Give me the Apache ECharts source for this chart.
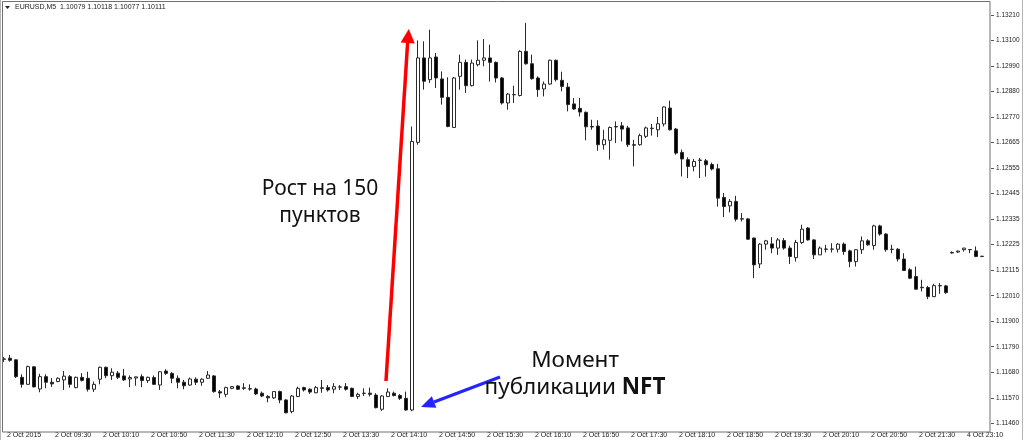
<!DOCTYPE html>
<html>
<head>
<meta charset="utf-8">
<script src="https://cdn.jsdelivr.net/npm/echarts@6/dist/echarts.min.js"></script>
<style>
  html, body { margin: 0; padding: 0; background: #fff; }
  #chart { width: 1024px; height: 440px; }
</style>
</head>
<body>
<div id="chart"></div>
<script>
// EURUSD M5, 2 Oct 2015 (NFT day) + first bars of 4 Oct
const barOpen = [
  1.11734, 1.11739, 1.11732, 1.11657, 1.11627, 1.11702, 1.11607, 1.11660, 1.11636, 1.11639,
  1.11646, 1.11660, 1.11613, 1.11657, 1.11653, 1.11606, 1.11649, 1.11700, 1.11664, 1.11675,
  1.11663, 1.11650, 1.11654, 1.11660, 1.11643, 1.11656, 1.11624, 1.11684, 1.11674, 1.11653,
  1.11636, 1.11624, 1.11649, 1.11636, 1.11653, 1.11663, 1.11595, 1.11584, 1.11610, 1.11620,
  1.11612, 1.11608, 1.11607, 1.11589, 1.11575, 1.11569, 1.11596, 1.11560, 1.11510, 1.11575,
  1.11613, 1.11606, 1.11591, 1.11612, 1.11613, 1.11606, 1.11615, 1.11617, 1.11610, 1.11575,
  1.11588, 1.11589, 1.11581, 1.11520, 1.11575, 1.11589, 1.11579, 1.11567, 1.11517, 1.12664,
  1.13026, 1.12933, 1.13030, 1.12936, 1.12857, 1.12728, 1.12947, 1.13007, 1.12907, 1.12997,
  1.13016, 1.13026, 1.13007, 1.12940, 1.12833, 1.12868, 1.12865, 1.13054, 1.13001, 1.12940,
  1.12893, 1.12914, 1.13016, 1.12930, 1.12901, 1.12829, 1.12810, 1.12793, 1.12732, 1.12734,
  1.12654, 1.12673, 1.12730, 1.12735, 1.12726, 1.12654, 1.12654, 1.12690, 1.12723, 1.12718,
  1.12743, 1.12811, 1.12721, 1.12621, 1.12590, 1.12561, 1.12588, 1.12585, 1.12569, 1.12551,
  1.12428, 1.12392, 1.12411, 1.12335, 1.12336, 1.12254, 1.12143, 1.12228, 1.12229, 1.12211,
  1.12243, 1.12211, 1.12170, 1.12235, 1.12297, 1.12246, 1.12182, 1.12207, 1.12206, 1.12206,
  1.12228, 1.12199, 1.12153, 1.12204, 1.12242, 1.12222, 1.12306, 1.12271, 1.12205, 1.12206,
  1.12164, 1.12118, 1.12089, 1.12043, 1.12042, 1.12003, 1.12049, 1.12049, 1.12192, 1.12194,
  1.12204, 1.12205, 1.12199, 1.12176
];
const barClose = [
  1.11736, 1.11730, 1.11660, 1.11627, 1.11703, 1.11616, 1.11660, 1.11636, 1.11629, 1.11653,
  1.11662, 1.11627, 1.11657, 1.11644, 1.11606, 1.11627, 1.11700, 1.11664, 1.11679, 1.11657,
  1.11646, 1.11656, 1.11659, 1.11643, 1.11657, 1.11627, 1.11681, 1.11674, 1.11653, 1.11636,
  1.11621, 1.11650, 1.11636, 1.11649, 1.11667, 1.11596, 1.11590, 1.11613, 1.11617, 1.11606,
  1.11610, 1.11607, 1.11586, 1.11577, 1.11569, 1.11596, 1.11560, 1.11505, 1.11577, 1.11610,
  1.11603, 1.11594, 1.11613, 1.11610, 1.11603, 1.11617, 1.11616, 1.11606, 1.11575, 1.11584,
  1.11589, 1.11584, 1.11527, 1.11577, 1.11594, 1.11579, 1.11567, 1.11517, 1.12668, 1.13026,
  1.12926, 1.13026, 1.12940, 1.12857, 1.12732, 1.12940, 1.13007, 1.12907, 1.13004, 1.13016,
  1.13026, 1.13007, 1.12940, 1.12833, 1.12871, 1.12869, 1.13054, 1.13001, 1.12937, 1.12890,
  1.12914, 1.13016, 1.12933, 1.12904, 1.12826, 1.12807, 1.12794, 1.12731, 1.12730, 1.12654,
  1.12675, 1.12728, 1.12732, 1.12721, 1.12654, 1.12652, 1.12693, 1.12726, 1.12725, 1.12744,
  1.12816, 1.12718, 1.12618, 1.12593, 1.12561, 1.12582, 1.12587, 1.12568, 1.12550, 1.12425,
  1.12389, 1.12411, 1.12335, 1.12337, 1.12249, 1.12139, 1.12228, 1.12242, 1.12211, 1.12246,
  1.12211, 1.12175, 1.12235, 1.12292, 1.12246, 1.12182, 1.12211, 1.12206, 1.12207, 1.12228,
  1.12196, 1.12153, 1.12204, 1.12242, 1.12225, 1.12306, 1.12271, 1.12204, 1.12206, 1.12164,
  1.12115, 1.12082, 1.12035, 1.12041, 1.12003, 1.12050, 1.12050, 1.12020, 1.12190, 1.12198,
  1.12211, 1.12204, 1.12175, 1.12175
];
const barLow = [
  1.11723, 1.11724, 1.11654, 1.11613, 1.11625, 1.11614, 1.11593, 1.11610, 1.11616, 1.11636,
  1.11603, 1.11613, 1.11610, 1.11639, 1.11596, 1.11594, 1.11627, 1.11653, 1.11646, 1.11650,
  1.11642, 1.11615, 1.11621, 1.11615, 1.11633, 1.11624, 1.11603, 1.11667, 1.11632, 1.11610,
  1.11606, 1.11621, 1.11624, 1.11621, 1.11650, 1.11591, 1.11569, 1.11572, 1.11606, 1.11603,
  1.11603, 1.11600, 1.11581, 1.11572, 1.11550, 1.11564, 1.11546, 1.11503, 1.11503, 1.11572,
  1.11596, 1.11586, 1.11589, 1.11591, 1.11596, 1.11589, 1.11603, 1.11600, 1.11572, 1.11564,
  1.11577, 1.11575, 1.11524, 1.11513, 1.11572, 1.11575, 1.11560, 1.11514, 1.11512, 1.12654,
  1.12890, 1.12919, 1.12897, 1.12826, 1.12729, 1.12726, 1.12890, 1.12876, 1.12904, 1.12990,
  1.12990, 1.12925, 1.12921, 1.12826, 1.12804, 1.12833, 1.12861, 1.12997, 1.12933, 1.12859,
  1.12861, 1.12911, 1.12925, 1.12883, 1.12797, 1.12804, 1.12775, 1.12673, 1.12718, 1.12628,
  1.12633, 1.12590, 1.12661, 1.12668, 1.12644, 1.12561, 1.12650, 1.12683, 1.12693, 1.12687,
  1.12732, 1.12715, 1.12611, 1.12518, 1.12511, 1.12540, 1.12511, 1.12517, 1.12544, 1.12389,
  1.12344, 1.12364, 1.12325, 1.12325, 1.12246, 1.12082, 1.12125, 1.12204, 1.12189, 1.12182,
  1.12204, 1.12143, 1.12153, 1.12229, 1.12243, 1.12164, 1.12182, 1.12192, 1.12192, 1.12192,
  1.12182, 1.12129, 1.12132, 1.12186, 1.12221, 1.12204, 1.12264, 1.12196, 1.12189, 1.12153,
  1.12114, 1.12078, 1.12032, 1.12025, 1.11992, 1.12001, 1.12015, 1.12015, 1.12188, 1.12190,
  1.12196, 1.12189, 1.12172, 1.12172
];
const barHigh = [
  1.11744, 1.11753, 1.11734, 1.11670, 1.11707, 1.11705, 1.11672, 1.11670, 1.11654, 1.11657,
  1.11684, 1.11667, 1.11660, 1.11675, 1.11681, 1.11639, 1.11703, 1.11703, 1.11696, 1.11684,
  1.11693, 1.11665, 1.11660, 1.11670, 1.11660, 1.11665, 1.11684, 1.11692, 1.11679, 1.11665,
  1.11646, 1.11656, 1.11657, 1.11653, 1.11684, 1.11667, 1.11603, 1.11617, 1.11620, 1.11624,
  1.11632, 1.11627, 1.11613, 1.11596, 1.11581, 1.11596, 1.11600, 1.11563, 1.11581, 1.11617,
  1.11617, 1.11610, 1.11620, 1.11646, 1.11624, 1.11632, 1.11624, 1.11632, 1.11613, 1.11591,
  1.11610, 1.11613, 1.11589, 1.11581, 1.11610, 1.11596, 1.11585, 1.11596, 1.12732, 1.13101,
  1.13097, 1.13147, 1.13047, 1.12968, 1.12943, 1.12944, 1.13040, 1.13019, 1.13019, 1.13101,
  1.13107, 1.13083, 1.13011, 1.12944, 1.12876, 1.12907, 1.13059, 1.13176, 1.13040, 1.12947,
  1.12925, 1.13019, 1.13019, 1.12967, 1.12919, 1.12854, 1.12854, 1.12796, 1.12761, 1.12759,
  1.12718, 1.12732, 1.12754, 1.12751, 1.12735, 1.12675, 1.12701, 1.12732, 1.12743, 1.12773,
  1.12818, 1.12843, 1.12726, 1.12633, 1.12600, 1.12593, 1.12597, 1.12593, 1.12577, 1.12572,
  1.12447, 1.12421, 1.12435, 1.12361, 1.12339, 1.12256, 1.12232, 1.12246, 1.12258, 1.12254,
  1.12254, 1.12221, 1.12246, 1.12311, 1.12301, 1.12249, 1.12218, 1.12225, 1.12232, 1.12232,
  1.12235, 1.12204, 1.12206, 1.12261, 1.12249, 1.12311, 1.12311, 1.12275, 1.12225, 1.12211,
  1.12189, 1.12125, 1.12132, 1.12075, 1.12049, 1.12058, 1.12061, 1.12053, 1.12197, 1.12201,
  1.12212, 1.12206, 1.12218, 1.12178
];

// price scale as MetaTrader draws it: 16 equal steps, rounded labels
const priceBase = 1.11460;
const priceTop = 1.13210;
const yTickLabels = ['1.11460', '1.11570', '1.11680', '1.11790', '1.11900', '1.12010', '1.12115', '1.12225',
  '1.12335', '1.12445', '1.12555', '1.12665', '1.12770', '1.12880', '1.12990', '1.13100', '1.13210'];

// time axis labels (bar index -> text)
const xTickIndex = [0, 8, 16, 24, 32, 40, 48, 56, 64, 72, 80, 88, 96, 104, 112, 120, 128, 136, 144, 152, 160];
const xTickText = ['2 Oct 2015', '2 Oct 09:30', '2 Oct 10:10', '2 Oct 10:50', '2 Oct 11:30', '2 Oct 12:10',
  '2 Oct 12:50', '2 Oct 13:30', '2 Oct 14:10', '2 Oct 14:50', '2 Oct 15:30', '2 Oct 16:10', '2 Oct 16:50',
  '2 Oct 17:30', '2 Oct 18:10', '2 Oct 18:50', '2 Oct 19:30', '2 Oct 20:10', '2 Oct 20:50', '2 Oct 21:30',
  '4 Oct 23:10'];

// sessions: [day, first bar minute, number of bars]
const sessions = [['2 Oct', 8 * 60 + 50, 158], ['4 Oct', 23 * 60, 6]];
const slotCount = 165;

const categories = [];
sessions.forEach(function (s) {
  for (var k = 0; k < s[2]; k++) {
    var m = s[1] + 5 * k;
    var hh = String(Math.floor(m / 60)).padStart(2, '0');
    var mm = String(m % 60).padStart(2, '0');
    categories.push(s[0] + ' ' + hh + ':' + mm);
  }
});
while (categories.length < slotCount) categories.push('');

const yStep = (priceTop - priceBase) / 16;
function toAxis (p) { return (p - priceBase) / yStep; }

const candles = [];
for (var i = 0; i < slotCount; i++) {
  if (i < barOpen.length) {
    candles.push([toAxis(barOpen[i]), toAxis(barClose[i]), toAxis(barLow[i]), toAxis(barHigh[i])]);
  } else {
    candles.push('-');
  }
}

const labelAt = {};
xTickIndex.forEach(function (idx, k) { labelAt[idx] = xTickText[k]; });
function hasLabel (idx) { return labelAt[idx] !== undefined; }

const chart = echarts.init(document.getElementById('chart'));
chart.setOption({
  animation: false,
  backgroundColor: '#fff',
  grid: { left: 1, right: 33, top: 15, bottom: 16.7 },
  xAxis: {
    type: 'category',
    data: categories,
    boundaryGap: true,
    offset: 8.7,
    axisLine: { show: false },
    axisTick: { interval: hasLabel, alignWithLabel: true, length: 3, lineStyle: { color: '#555' } },
    axisLabel: {
      interval: hasLabel,
      formatter: function (v, idx) { return labelAt[idx] || ''; },
      align: 'left',
      verticalAlign: 'top',
      margin: 0,
      padding: [0, 0, 0, 3],
      fontSize: 7,
      fontFamily: 'Liberation Sans',
      color: '#222'
    },
    splitLine: { show: false }
  },
  yAxis: {
    type: 'value',
    position: 'right',
    min: 0,
    max: 16,
    interval: 1,
    axisLine: { show: false },
    axisTick: { show: true, length: 3, lineStyle: { color: '#555' } },
    axisLabel: {
      margin: 5,
      fontSize: 6.5,
      fontFamily: 'Liberation Sans',
      color: '#222',
      formatter: function (v) { return yTickLabels[Math.round(v)]; }
    },
    splitLine: { show: false }
  },
  series: [{
    type: 'candlestick',
    data: candles,
    barWidth: 4,
    clip: false,
    itemStyle: {
      color: '#fff',
      color0: '#000',
      borderColor: '#2a2a2a',
      borderColor0: '#2a2a2a',
      borderWidth: 1
    }
  }],
  graphic: [
    { type: 'line', silent: true, z: 100, shape: { x1: 0.5, y1: 0, x2: 0.5, y2: 440 }, style: { stroke: '#b4b4b4', lineWidth: 1 } },
    { type: 'line', silent: true, z: 100, shape: { x1: 1022.5, y1: 0, x2: 1022.5, y2: 440 }, style: { stroke: '#b4b4b4', lineWidth: 1 } },
    { type: 'rect', silent: true, z: 100, shape: { x: 2.5, y: 1.5, width: 987.5, height: 430.5 }, style: { fill: null, stroke: '#707070', lineWidth: 1 } },
    { type: 'polygon', silent: true, z: 100, shape: { points: [[5, 6], [10, 6], [7.5, 9]] }, style: { fill: '#222' } },
    { type: 'text', silent: true, z: 100, x: 15, y: 7.5,
      style: { text: 'EURUSD,M5  1.10079 1.10118 1.10077 1.10111', fontSize: 7, fontFamily: 'Liberation Sans', fill: '#222', verticalAlign: 'middle' } },
    // red arrow
    { type: 'polyline', silent: true, z: 100, shape: { points: [[386, 381], [407.6, 43]] }, style: { stroke: '#ff0000', lineWidth: 3.5, fill: null } },
    { type: 'polygon', silent: true, z: 100, shape: { points: [[408.8, 29], [414.8, 43.6], [400.6, 42.6]] }, style: { fill: '#ff0000' } },
    // blue arrow
    { type: 'polyline', silent: true, z: 100, shape: { points: [[500, 377], [434, 402]] }, style: { stroke: '#2424ff', lineWidth: 3, fill: null } },
    { type: 'polygon', silent: true, z: 100, shape: { points: [[421, 407], [436.4, 407.8], [431.8, 396.2]] }, style: { fill: '#2424ff' } },
    // captions
    { type: 'text', silent: true, z: 100, x: 320, y: 203,
      style: { text: 'Рост на 150\nпунктов', fontSize: 21, lineHeight: 27, fontFamily: 'Noto Sans', fill: '#111', align: 'center', verticalAlign: 'middle' } },
    { type: 'text', silent: true, z: 100, x: 575, y: 374,
      style: {
        text: 'Момент\nпубликации {b|NFT}',
        fontSize: 22.5, lineHeight: 27, fontFamily: 'Noto Sans', fill: '#111', align: 'center', verticalAlign: 'middle',
        rich: { b: { fontSize: 22.5, lineHeight: 27, fontFamily: 'Noto Sans', fontWeight: 'bold', fill: '#111' } }
      } }
  ]
});
</script>
</body>
</html>
